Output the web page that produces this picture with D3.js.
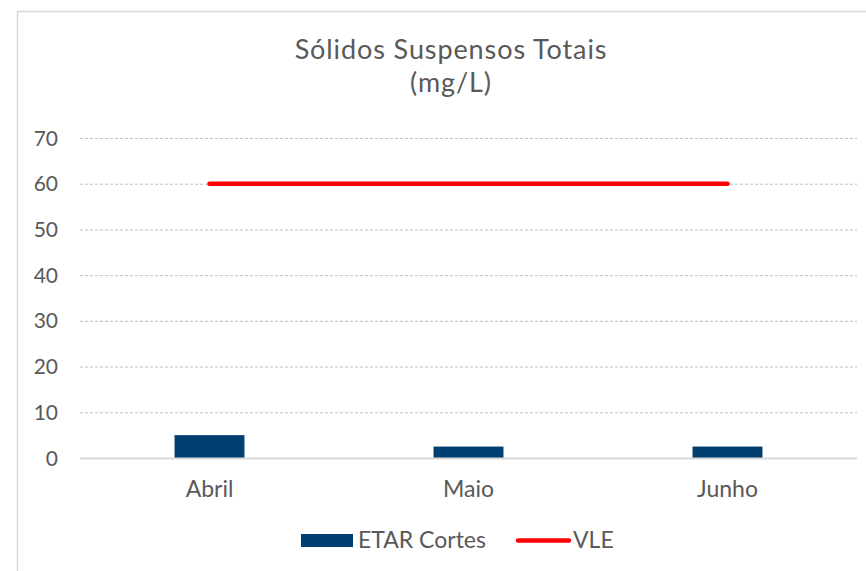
<!DOCTYPE html>
<html>
<head>
<meta charset="utf-8">
<style>
    body { margin: 0; background: #fff; }
    svg { display: block; font-family: 'Lato', 'Open Sans', sans-serif; }
    .grid line { stroke: #bfbfbf; stroke-dasharray: 3 2; }
    .y text, .x text { fill: #595959; }
</style>
</head>
<body>
<svg width="866" height="571"></svg>
<script src="https://d3js.org/d3.v7.min.js"></script>
<script>
    // data
    let months = ["Abril", "Maio", "Junho"];
    let etar = [5, 2.5, 2.5];
    let vle = [60, 60, 60];
    let yTicks = [0, 10, 20, 30, 40, 50, 60, 70];

    let svg = d3.select("svg");
    let margin = { top: 138, right: 9, bottom: 113, left: 80 };
    let width = 866, height = 571;

    // chart border (runs off the right/bottom edge like the reference)
    svg.append("rect")
        .attr("x", 17.5).attr("y", 11.5)
        .attr("width", 900).attr("height", 600)
        .attr("fill", "none")
        .attr("stroke", "#d9d9d9")
        .attr("stroke-width", 1.5);

    let x = d3.scaleBand()
        .domain(months)
        .range([margin.left, width - margin.right]);

    let y = d3.scaleLinear()
        .domain([0, 70])
        .range([height - margin.bottom, margin.top]);

    // gridlines
    svg.append("g")
        .attr("class", "grid")
        .selectAll("line")
        .data(yTicks.filter(d => d > 0))
        .join("line")
        .attr("x1", margin.left)
        .attr("x2", width - margin.right)
        .attr("y1", d => y(d) + 0.5)
        .attr("y2", d => y(d) + 0.5);

    // y axis labels
    svg.append("g")
        .attr("class", "y")
        .selectAll("text")
        .data(yTicks)
        .join("text")
        .attr("x", 58)
        .attr("y", d => y(d) + 7.5)
        .attr("text-anchor", "end")
        .style("font-size", "21px")
        .text(d => d);

    // bars
    let barW = x.bandwidth() * 0.27;
    svg.append("g")
        .selectAll("rect")
        .data(etar)
        .join("rect")
        .attr("x", (d, i) => x(months[i]) + x.bandwidth() / 2 - barW / 2)
        .attr("y", d => y(d))
        .attr("width", barW)
        .attr("height", d => y(0) - y(d))
        .attr("fill", "#003f72");

    // zero axis line
    svg.append("line")
        .attr("x1", margin.left)
        .attr("x2", width - margin.right)
        .attr("y1", y(0) + 0.5)
        .attr("y2", y(0) + 0.5)
        .attr("stroke", "#d9d9d9")
        .attr("stroke-width", 2);

    // x labels
    svg.append("g")
        .attr("class", "x")
        .selectAll("text")
        .data(months)
        .join("text")
        .attr("x", d => x(d) + x.bandwidth() / 2)
        .attr("y", 497)
        .attr("text-anchor", "middle")
        .style("font-size", "23px")
        .text(d => d);

    // VLE line
    let line = d3.line()
        .x((d, i) => x(months[i]) + x.bandwidth() / 2)
        .y(d => y(d));

    svg.append("path")
        .datum(vle)
        .attr("d", line)
        .attr("fill", "none")
        .attr("stroke", "#ff0000")
        .attr("stroke-width", 4.5)
        .attr("stroke-linecap", "round");

    // title, two lines
    let titleLines = ["Sólidos Suspensos Totais", "(mg/L)"];
    svg.append("g")
        .selectAll("text")
        .data(titleLines)
        .join("text")
        .attr("x", 451)
        .attr("y", (d, i) => 58.5 + i * 33)
        .attr("text-anchor", "middle")
        .style("font-size", "27px")
        .style("letter-spacing", "0.9px")
        .attr("fill", "#595959")
        .text(d => d);

    // legend
    let leg = svg.append("g").style("font-size", "23px").attr("fill", "#595959");
    leg.append("rect")
        .attr("x", 301).attr("y", 534)
        .attr("width", 52).attr("height", 13)
        .attr("fill", "#003f72");
    leg.append("text").attr("x", 358).attr("y", 548).text("ETAR Cortes");
    leg.append("line")
        .attr("x1", 518).attr("x2", 569)
        .attr("y1", 540.5).attr("y2", 540.5)
        .attr("stroke", "#ff0000")
        .attr("stroke-width", 4.5)
        .attr("stroke-linecap", "round");
    leg.append("text").attr("x", 573).attr("y", 548).text("VLE");
</script>
</body>
</html>
